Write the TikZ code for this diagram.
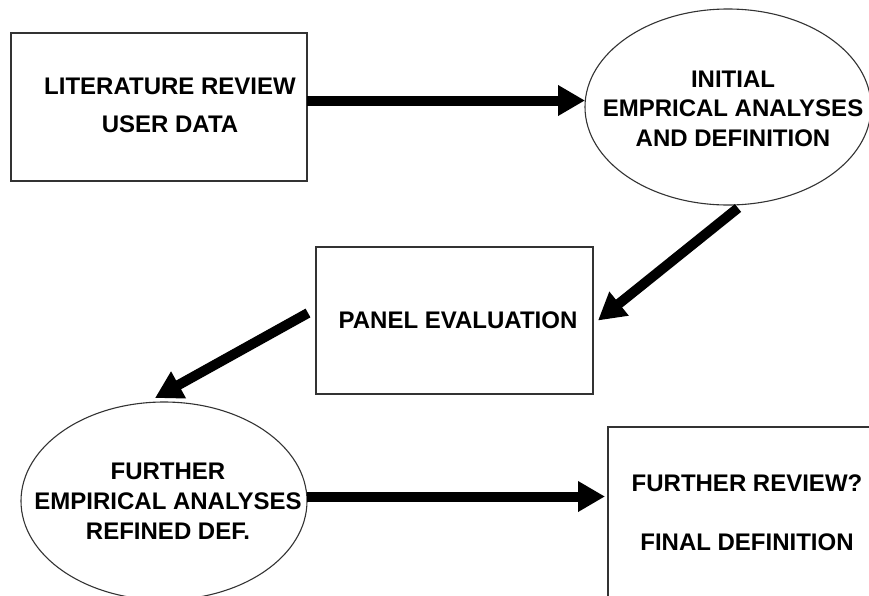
\documentclass[tikz,border=0pt]{standalone}
\usepackage{fontspec}
\setmainfont{Liberation Sans}
\usetikzlibrary{arrows.meta,shapes.geometric}
\tikzset{
  stage/.style={draw=black!80, line width=1.1pt, rectangle, inner sep=0pt, outer sep=0pt},
  oval/.style={draw=black!80, line width=1.1pt, ellipse, inner sep=0pt, outer sep=0pt},
  caption/.style={align=center, inner sep=0pt, font=\bfseries\fontsize{24}{#1}\selectfont},
  caption/.default=30pt,
  flow/.style={line width=10pt, -{Triangle[length=27pt,width=29pt]}},
}
\begin{document}
\begin{tikzpicture}[x=1pt,y=-1pt]
\useasboundingbox (0,0) rectangle (869,595);
\fill[white] (0,0) rectangle (869,595);
\clip (0,0) rectangle (869,595);

% stages of the process
\node[stage, minimum width=296pt, minimum height=148pt] (lit) at (159,107) {};
\node[caption=38pt] (littxt) at (170,105) {LITERATURE REVIEW\\USER DATA};

\node[oval, minimum width=286pt, minimum height=196pt] (init) at (728,107) {};
\node[caption=29.5pt] (inittxt) at (733,108.5) {INITIAL\\EMPRICAL ANALYSES\\AND DEFINITION};

\node[stage, minimum width=277pt, minimum height=147pt] (panel) at (454.5,320.5) {};
\node[caption] (paneltxt) at (458,320.5) {PANEL EVALUATION};

\node[oval, minimum width=286pt, minimum height=198pt] (further) at (164,501) {};
\node[caption=30pt] (furthertxt) at (168,501) {FURTHER\\EMPIRICAL ANALYSES\\REFINED DEF.};

\node[stage, minimum width=278pt, minimum height=173pt] (final) at (747,513.5) {};
\node[caption=59pt] (finaltxt) at (747,513) {FURTHER REVIEW?\\FINAL DEFINITION};

% flow between the stages
\coordinate (a1s) at ([yshift=6.5pt]lit.east);
\draw[flow] (a1s) -- (a1s -| init.west);
\draw[flow] ([shift={(10pt,-3pt)}]init.south) -- ([xshift=5pt]panel.east);
\draw[flow] ([shift={(-8pt,7.5pt)}]panel.west) -- ([shift={(-9pt,4pt)}]further.north);
\coordinate (a4s) at ([yshift=4.5pt]further.east);
\draw[flow, shorten >=3pt] (a4s) -- (a4s -| final.west);
\end{tikzpicture}
\end{document}
